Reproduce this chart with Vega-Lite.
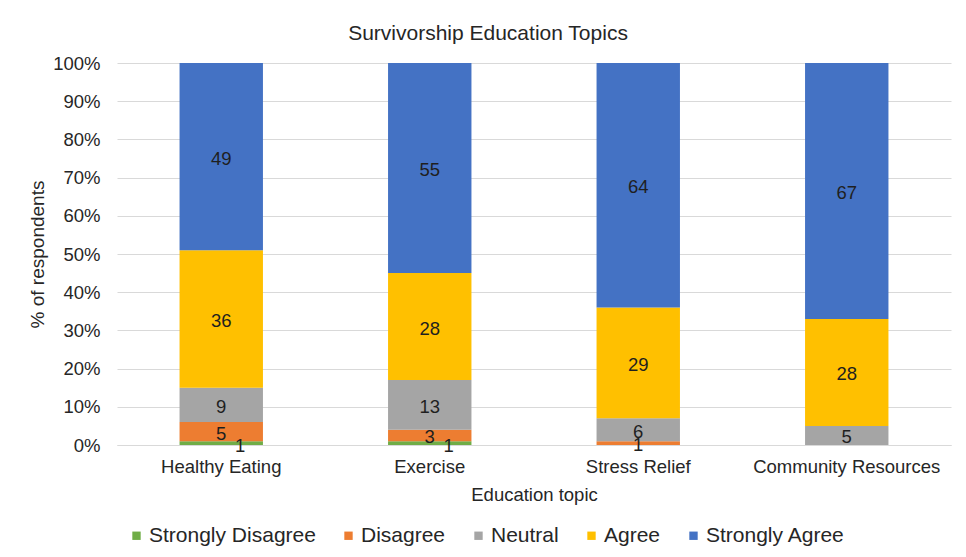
{
  "$schema": "https://vega.github.io/schema/vega-lite/v6.json",
  "width": 834,
  "height": 382,
  "autosize": "none",
  "padding": {"left": 117, "top": 63, "right": 15, "bottom": 112},
  "background": "#ffffff",
  "title": {
    "text": "Survivorship Education Topics",
    "anchor": "middle",
    "dx": -46,
    "dy": 31,
    "baseline": "alphabetic",
    "offset": 24,
    "font": "Liberation Sans",
    "fontSize": 21,
    "fontWeight": "normal",
    "color": "#262626"
  },
  "data": {
    "values": [
      {"topic": "Healthy Eating", "response": "Strongly Disagree", "rank": 1, "n": 1},
      {"topic": "Healthy Eating", "response": "Disagree", "rank": 2, "n": 5},
      {"topic": "Healthy Eating", "response": "Neutral", "rank": 3, "n": 9},
      {"topic": "Healthy Eating", "response": "Agree", "rank": 4, "n": 36},
      {"topic": "Healthy Eating", "response": "Strongly Agree", "rank": 5, "n": 49},
      {"topic": "Exercise", "response": "Strongly Disagree", "rank": 1, "n": 1},
      {"topic": "Exercise", "response": "Disagree", "rank": 2, "n": 3},
      {"topic": "Exercise", "response": "Neutral", "rank": 3, "n": 13},
      {"topic": "Exercise", "response": "Agree", "rank": 4, "n": 28},
      {"topic": "Exercise", "response": "Strongly Agree", "rank": 5, "n": 55},
      {"topic": "Stress Relief", "response": "Strongly Disagree", "rank": 1, "n": 0},
      {"topic": "Stress Relief", "response": "Disagree", "rank": 2, "n": 1},
      {"topic": "Stress Relief", "response": "Neutral", "rank": 3, "n": 6},
      {"topic": "Stress Relief", "response": "Agree", "rank": 4, "n": 29},
      {"topic": "Stress Relief", "response": "Strongly Agree", "rank": 5, "n": 64},
      {"topic": "Community Resources", "response": "Strongly Disagree", "rank": 1, "n": 0},
      {"topic": "Community Resources", "response": "Disagree", "rank": 2, "n": 0},
      {"topic": "Community Resources", "response": "Neutral", "rank": 3, "n": 5},
      {"topic": "Community Resources", "response": "Agree", "rank": 4, "n": 28},
      {"topic": "Community Resources", "response": "Strongly Agree", "rank": 5, "n": 67}
    ]
  },
  "encoding": {
    "x": {
      "field": "topic",
      "type": "nominal",
      "sort": ["Healthy Eating", "Exercise", "Stress Relief", "Community Resources"],
      "scale": {"paddingInner": 0, "paddingOuter": 0},
      "axis": {
        "title": "Education topic",
        "labelAngle": 0,
        "labelFontSize": 18.5,
        "labelPadding": 12,
        "labelLimit": 0,
        "labelColor": "#262626",
        "titleFontSize": 18.5,
        "titleFontWeight": "normal",
        "titleColor": "#262626",
        "titlePadding": 10,
        "ticks": false,
        "domainColor": "#d9d9d9",
        "grid": false
      }
    },
    "y": {
      "field": "n",
      "type": "quantitative",
      "stack": "normalize",
      "scale": {"domain": [0, 1], "nice": false},
      "axis": {
        "title": "% of respondents",
        "values": [0, 0.1, 0.2, 0.3, 0.4, 0.5, 0.6, 0.7, 0.8, 0.9, 1],
        "format": ".0%",
        "labelFontSize": 18.5,
        "labelPadding": 17,
        "labelColor": "#262626",
        "titleFontSize": 19,
        "titleFontWeight": "normal",
        "titleColor": "#262626",
        "titlePadding": 5,
        "ticks": false,
        "domain": false,
        "grid": true,
        "gridColor": "#d9d9d9"
      }
    },
    "order": {"field": "rank", "type": "quantitative"}
  },
  "layer": [
    {
      "mark": {"type": "bar", "width": {"band": 0.4}},
      "encoding": {
        "color": {
          "field": "response",
          "type": "nominal",
          "sort": ["Strongly Disagree", "Disagree", "Neutral", "Agree", "Strongly Agree"],
          "scale": {
            "domain": ["Strongly Disagree", "Disagree", "Neutral", "Agree", "Strongly Agree"],
            "range": ["#70ad47", "#ed7d31", "#a5a5a5", "#ffc000", "#4472c4"]
          },
          "legend": {
            "title": null,
            "orient": "none",
            "direction": "horizontal",
            "legendX": 9,
            "legendY": 462,
            "symbolType": "square",
            "symbolSize": 70,
            "symbolStrokeWidth": 0,
            "labelFontSize": 21,
            "labelLimit": 0,
            "labelColor": "#262626",
            "labelOffset": 2,
            "columnPadding": 22
          }
        }
      }
    },
    {
      "mark": {"type": "text", "fontSize": 18.5, "color": "#1f1f1f", "dy": 2},
      "encoding": {
        "y": {"field": "n", "type": "quantitative", "stack": "normalize", "bandPosition": 0.5},
        "text": {
          "condition": {"test": "datum.n > 0 && datum.rank > 1", "field": "n", "type": "quantitative"},
          "value": ""
        }
      }
    },
    {
      "mark": {"type": "text", "fontSize": 18.5, "color": "#1f1f1f", "dx": 19, "dy": 3},
      "encoding": {
        "y": {"field": "n", "type": "quantitative", "stack": "normalize", "bandPosition": 0.5},
        "text": {
          "condition": {"test": "datum.n > 0 && datum.rank == 1", "field": "n", "type": "quantitative"},
          "value": ""
        }
      }
    }
  ],
  "config": {
    "font": "Liberation Sans",
    "view": {"stroke": null}
  }
}
